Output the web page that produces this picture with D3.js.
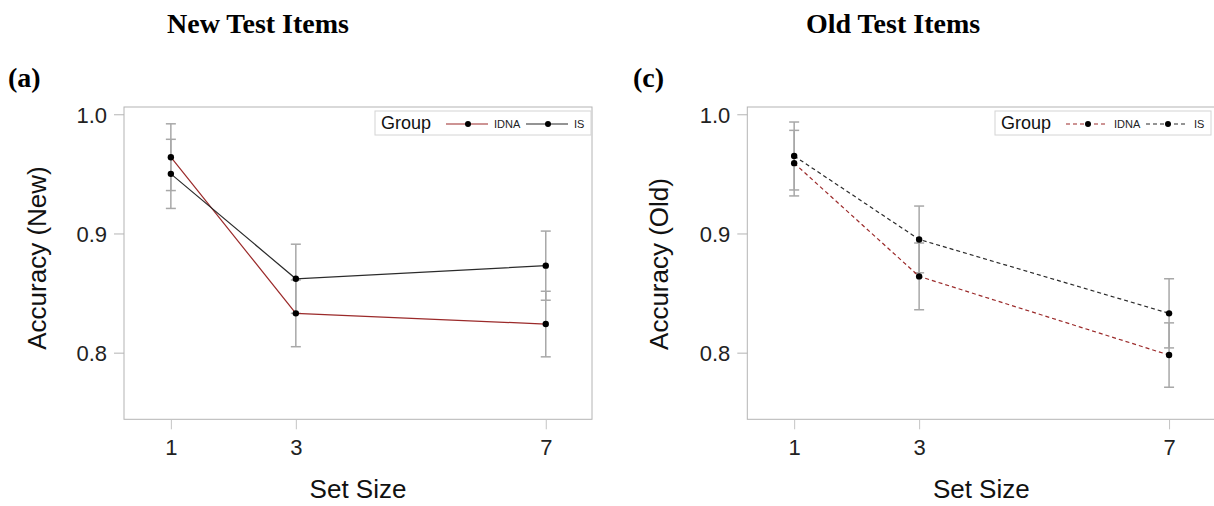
<!DOCTYPE html>
<html>
<head>
<meta charset="utf-8">
<script src="https://cdnjs.cloudflare.com/ajax/libs/d3/7.8.5/d3.min.js"></script>
<style>
  body { margin: 0; background: #ffffff; }
  svg { display: block; }
  .tick text { font-family: "Liberation Sans", Arial, sans-serif; fill: #222; }
</style>
</head>
<body>
<div id="chart"></div>
<script>
// ---- data ----
var setSizes = [1, 3, 7];
var groups = ["IDNA", "IS"];
var yTicks = [0.8, 0.9, 1.0];

// new test items (panel a)
var newIDNA = [0.964, 0.833, 0.824];
var newIDNAErr = [0.028, 0.028, 0.0275];
var newIS = [0.950, 0.862, 0.873];
var newISErr = [0.029, 0.029, 0.029];

// old test items (panel c)
var oldIDNA = [0.959, 0.864, 0.798];
var oldIDNAErr = [0.0275, 0.028, 0.027];
var oldIS = [0.965, 0.895, 0.833];
var oldISErr = [0.0285, 0.028, 0.029];

var width = 1214, height = 506;
var colors = { IDNA: "#9b2a2a", IS: "#2b2b2b" };

var svg = d3.select("#chart")
  .append("svg")
  .attr("width", width)
  .attr("height", height)

function drawPanel(opts){

  var x = d3.scaleLinear()
    .domain([0.25, 7.74])
    .range([opts.left, opts.left + 468])

  var y = d3.scaleLinear()
    .domain([0.7441, 1.0061])
    .range([419.3, 107])

  var g = svg.append("g")

  // headings
  g.append("text")
    .attr("x", opts.titleX).attr("y", 33)
    .attr("text-anchor", "middle")
    .style("font-family", "'Liberation Serif', 'Times New Roman', serif")
    .style("font-weight", "bold")
    .style("font-size", "28px")
    .text(opts.title)

  g.append("text")
    .attr("x", opts.letterX).attr("y", 87)
    .style("font-family", "'Liberation Serif', 'Times New Roman', serif")
    .style("font-weight", "bold")
    .style("font-size", "28px")
    .text(opts.letter)

  // frame
  g.append("rect")
    .attr("x", x.range()[0]).attr("y", 107)
    .attr("width", 468).attr("height", 312.3)
    .attr("fill", "none")
    .attr("stroke", "#b4b4b4")
    .attr("stroke-width", 1)

  var yAxis = g.append("g")
    .attr("transform", "translate(" + x.range()[0] + ",0)")
    .call(d3.axisLeft(y).tickValues(yTicks).tickFormat(d3.format(".1f")).tickSize(10).tickPadding(7))
  yAxis.select(".domain").remove()
  yAxis.selectAll("line").attr("stroke", "#b4b4b4")
  yAxis.selectAll("text").style("font-size", "22px").attr("dy", "0.36em")

  var xAxis = g.append("g")
    .attr("transform", "translate(0,419.3)")
    .call(d3.axisBottom(x).tickValues(setSizes).tickSize(10).tickPadding(10))
  xAxis.select(".domain").remove()
  xAxis.selectAll("line").attr("stroke", "#c4c4c4")
  xAxis.selectAll("text").style("font-size", "22px")

  // axis labels
  g.append("text")
    .attr("transform", "translate(" + opts.yLabelX + "," + opts.yLabelY + ") rotate(-90)")
    .attr("text-anchor", "middle")
    .style("font-family", "'Liberation Sans', Arial, sans-serif")
    .style("font-size", "26px")
    .attr("fill", "#111")
    .text(opts.yLabel)

  g.append("text")
    .attr("x", (x.range()[0] + x.range()[1]) / 2).attr("y", 498)
    .attr("text-anchor", "middle")
    .style("font-family", "'Liberation Sans', Arial, sans-serif")
    .style("font-size", "26px")
    .attr("fill", "#111")
    .text("Set Size")

  var series = [
    { name: "IDNA", values: opts.idna, err: opts.idnaErr },
    { name: "IS", values: opts.is, err: opts.isErr }
  ]

  // error bars
  series.forEach(function(s){
    var eb = g.append("g").attr("stroke", "#a8a8a8").attr("stroke-width", 1.5)
    setSizes.forEach(function(k, i){
      var lo = y(s.values[i] - s.err[i]), hi = y(s.values[i] + s.err[i])
      eb.append("line").attr("x1", x(k)).attr("x2", x(k)).attr("y1", lo).attr("y2", hi)
      eb.append("line").attr("x1", x(k) - 5).attr("x2", x(k) + 5).attr("y1", lo).attr("y2", lo)
      eb.append("line").attr("x1", x(k) - 5).attr("x2", x(k) + 5).attr("y1", hi).attr("y2", hi)
    })
  })

  var line = d3.line()
    .x(function(d){ return x(d.k) })
    .y(function(d){ return y(d.v) })

  series.forEach(function(s){
    var pts = setSizes.map(function(k, i){ return { k: k, v: s.values[i] } })
    g.append("path")
      .datum(pts)
      .attr("d", line)
      .attr("fill", "none")
      .attr("stroke", colors[s.name])
      .attr("stroke-width", 1.2)
      .attr("stroke-dasharray", opts.dash)

    g.selectAll(".pt-" + s.name)
      .data(pts).enter().append("circle")
        .attr("cx", function(d){ return x(d.k) })
        .attr("cy", function(d){ return y(d.v) })
        .attr("r", 3.2)
        .attr("fill", "#000")
  })

  // legend
  var lx = opts.legendX
  var leg = g.append("g")
  leg.append("rect")
    .attr("x", lx).attr("y", 111)
    .attr("width", 216).attr("height", 24)
    .attr("fill", "#fff")
    .attr("stroke", "#d4d4d4")
  leg.append("text")
    .attr("x", lx + 6).attr("y", 129)
    .style("font-family", "'Liberation Sans', Arial, sans-serif")
    .style("font-size", "18px")
    .attr("fill", "#111")
    .text("Group")

  var itemX = [lx + 71, lx + 151]
  var textX = [lx + 119, lx + 199]
  groups.forEach(function(name, i){
    leg.append("line")
      .attr("x1", itemX[i]).attr("x2", itemX[i] + 42)
      .attr("y1", 124).attr("y2", 124)
      .attr("stroke", colors[name])
      .attr("stroke-width", 1.2)
      .attr("stroke-dasharray", opts.dash)
    leg.append("circle")
      .attr("cx", itemX[i] + 22).attr("cy", 124)
      .attr("r", 3).attr("fill", "#000")
    leg.append("text")
      .attr("x", textX[i]).attr("y", 128)
      .style("font-family", "'Liberation Sans', Arial, sans-serif")
      .style("font-size", "11px")
      .attr("fill", "#222")
      .text(name)
  })

} // end of drawPanel()

drawPanel({
  left: 124, title: "New Test Items", titleX: 258, letter: "(a)", letterX: 8,
  yLabel: "Accuracy (New)", yLabelX: 46, yLabelY: 258,
  idna: newIDNA, idnaErr: newIDNAErr, is: newIS, isErr: newISErr,
  dash: null, legendX: 375
})

drawPanel({
  left: 747.3, title: "Old Test Items", titleX: 893, letter: "(c)", letterX: 633,
  yLabel: "Accuracy (Old)", yLabelX: 668, yLabelY: 264,
  idna: oldIDNA, idnaErr: oldIDNAErr, is: oldIS, isErr: oldISErr,
  dash: "4,3", legendX: 995
})
</script>
</body>
</html>
